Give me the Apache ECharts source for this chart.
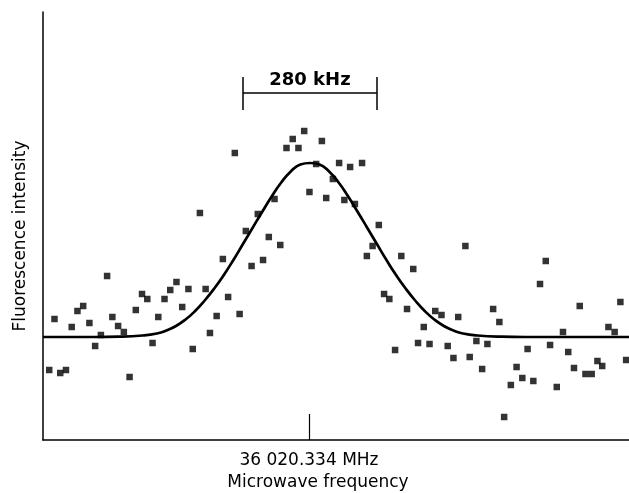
<!DOCTYPE html>
<html>
<head>
<meta charset="utf-8">
<script src="https://cdn.jsdelivr.net/npm/echarts@6/dist/echarts.min.js"></script>
<style>
html,body{margin:0;padding:0;background:#fff;}
#chart{width:629px;height:493px;}
</style>
</head>
<body>
<div id="chart"></div>
<script>
// Frequency offset from line centre (kHz)
const pointX = [-543,-532,-520,-508,-496,-484,-472,-459,-447,-435,-422,-411,-399,-387,-375,-362,-349,-338,-327,-315,-302,-290,-277,-265,-252,-243,-228,-216,-207,-193,-180,-169,-155,-145,-132,-120,-107,-96,-84,-72,-60,-47,-34,-22,-10,1,15,27,36,50,63,74,86,96,111,121,133,146,157,168,180,193,205,218,228,240,252,264,277,290,302,312,327,336,350,362,373,385,398,408,422,434,446,457,469,483,495,504,518,531,542,554,566,578,591,603,613,626,639,651,663];
// Fluorescence intensity (arbitrary units)
const pointY = [70,121,67,70,113,129,134,117,94,105,164,123,114,108,63,130,146,141,97,123,141,150,158,133,151,91,227,151,107,124,181,143,287,126,209,174,226,180,203,241,195,292,301,292,309,248,276,299,242,261,277,240,273,236,277,184,194,215,146,141,90,184,131,171,97,113,96,129,125,94,82,123,194,83,99,71,96,131,118,23,55,73,62,91,59,156,179,95,53,108,88,72,134,66,66,79,74,113,108,138,80];
// Fitted line profile
const curveX = [-556,-448,-398,-348,-318,-298,-278,-258,-238,-218,-198,-178,-158,-138,-118,-98,-78,-58,-38,-18,2,22,42,62,82,102,122,142,162,182,202,222,242,262,282,302,322,352,402,452,669];
const curveY = [103,103,103.3,104.5,106.5,109.5,114,120.5,129,139.5,151.5,165,180,196,212,228,243.5,257.5,268.5,275.5,277,275.5,268.5,257.5,243.5,228,212,196,180,165,151.5,139.5,129,120.5,114,109.5,106.5,104.5,103.3,103,103];
// Line-width bracket
const bracketX = [-138, 142];
const bracketY = 347;
const bracketEnds = [330, 363];
const bracketLabel = '280 kHz';
const centerTick = [0];
const centerLabel = '36 020.334 MHz';
const xTitle = 'Microwave frequency';
const yTitle = 'Fluorescence intensity';

const chart = echarts.init(document.getElementById('chart'), null, {renderer:'canvas'});
const font = 'DejaVu Sans';
const option = {
  animation: false,
  backgroundColor: '#fff',
  grid: {left: 43, right: 0, top: 12, bottom: 53},
  xAxis: {
    type: 'value', min: -556, max: 669,
    axisLine: {show: true, onZero: false, lineStyle: {color: '#000', width: 1.5}},
    axisTick: {show: true, customValues: centerTick, inside: true, length: 26, lineStyle: {color: '#000', width: 1.2}},
    axisLabel: {show: true, customValues: centerTick, formatter: () => centerLabel, color: '#000', fontFamily: font, fontSize: 17, margin: 12},
    splitLine: {show: false}
  },
  yAxis: {
    type: 'value', min: 0, max: 428,
    axisLine: {show: true, onZero: false, lineStyle: {color: '#000', width: 1.5}},
    axisTick: {show: false}, axisLabel: {show: false}, splitLine: {show: false}
  },
  graphic: [
    {type: 'text', x: 318, y: 483, style: {text: xTitle, font: '17px "DejaVu Sans"', fill: '#000', textAlign: 'center', textVerticalAlign: 'middle'}},
    {type: 'text', x: 21, y: 236, rotation: Math.PI / 2, style: {text: yTitle, font: '17px "DejaVu Sans"', fill: '#000', textAlign: 'center', textVerticalAlign: 'middle'}}
  ],
  series: [
    {
      type: 'line', data: curveX.map((x, i) => [x, curveY[i]]), smooth: true, showSymbol: false,
      lineStyle: {color: '#000', width: 2.7}, z: 2,
      markLine: {
        silent: true, symbol: 'none', animation: false,
        lineStyle: {color: '#000', width: 1.5, type: 'solid'},
        label: {show: false},
        data: [
          [{coord: [bracketX[0], bracketY]}, {coord: [bracketX[1], bracketY],
            label: {show: true, position: 'middle', formatter: bracketLabel, color: '#000', fontFamily: font, fontWeight: 'bold', fontSize: 18, distance: 4}}],
          [{coord: [bracketX[0], bracketEnds[0]]}, {coord: [bracketX[0], bracketEnds[1]]}],
          [{coord: [bracketX[1], bracketEnds[0]]}, {coord: [bracketX[1], bracketEnds[1]]}]
        ]
      }
    },
    {
      type: 'scatter', data: pointX.map((x, i) => [x, pointY[i]]), symbol: 'rect', symbolSize: 6.5,
      itemStyle: {color: '#000'}, z: 3
    }
  ]
};
chart.setOption(option);
</script>
</body>
</html>
